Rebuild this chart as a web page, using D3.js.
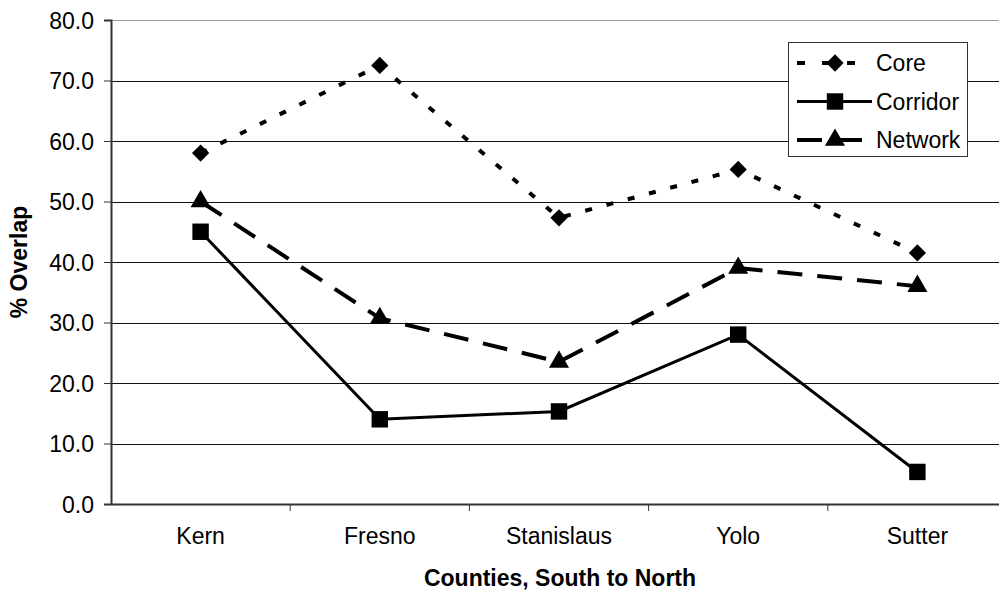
<!DOCTYPE html>
<html lang='en'>
	<head>
		<title>Overlap by County</title>
		<script type='text/javascript' src='https://cdn.jsdelivr.net/npm/d3@7'></script>
		<style>
			body { margin: 0; background: #fff; }
			text { font-family: 'Liberation Sans', Arial, sans-serif; fill: #000; }
		</style>
	</head>
	<body>
		<script type='text/javascript'>
		var counties = ['Kern', 'Fresno', 'Stanislaus', 'Yolo', 'Sutter'];
		var core = [58.0, 72.5, 47.3, 55.3, 41.5];
		var corridor = [45.0, 14.0, 15.3, 28.0, 5.3];
		var network = [50.0, 30.7, 23.5, 39.0, 36.0];
		var y_ticks = [0, 10, 20, 30, 40, 50, 60, 70, 80];

		{
			let width = 999, height = 595;
			let svg = d3.select('body').append('svg').attr('width', width).attr('height', height)

			let plot_l = 111, plot_r = 1007, plot_t = 20, plot_b = 504;
			let x = d3.scaleBand().domain(counties).range([plot_l, plot_r])
			let y = d3.scaleLinear().domain([0, 80]).range([plot_b, plot_t])

			// gridlines
			svg.append('g').selectAll('line').data(y_ticks.slice(1)).enter().append('line')
				.attr('x1', plot_l).attr('x2', plot_r)
				.attr('y1', d => Math.round(y(d)) + 0.5).attr('y2', d => Math.round(y(d)) + 0.5)
				.attr('stroke', d => d == 80 ? '#999' : '#111').attr('stroke-width', 1)

			// y axis
			let yAxis = d3.axisLeft(y).tickValues(y_ticks).tickFormat(d3.format('.1f')).tickSize(7).tickPadding(10)
			let gy = svg.append('g').attr('transform', 'translate(' + plot_l + ',0)').call(yAxis)
			gy.select('.domain').attr('stroke', '#333').attr('stroke-width', 2)
			gy.selectAll('.tick line').attr('stroke', '#333')
			gy.selectAll('text').style('font-size', '23px').attr('dy', '0.36em')

			// x axis
			let xAxis = d3.axisBottom(x).tickSize(0).tickPadding(24)
			let gx = svg.append('g').attr('transform', 'translate(0,' + plot_b + ')').call(xAxis)
			gx.select('.domain').attr('stroke', '#333').attr('stroke-width', 2)
			gx.selectAll('text').style('font-size', '23px')
			gx.selectAll('.sep').data(counties.slice(1)).enter().append('line').attr('class', 'sep')
				.attr('x1', d => x(d)).attr('x2', d => x(d)).attr('y1', 0).attr('y2', 7)
				.attr('stroke', '#333')

			// axis titles
			svg.append('text').attr('x', 560).attr('y', 586).attr('text-anchor', 'middle')
				.style('font-size', '23px').style('font-weight', 'bold').text('Counties, South to North')
			svg.append('text').attr('transform', 'translate(27,262) rotate(-90)').attr('text-anchor', 'middle')
				.style('font-size', '23px').style('font-weight', 'bold').text('% Overlap')

			let series = [
				{name: 'Core', values: core, dash: '7,15', width: 4, sym: d3.symbolDiamond2, size: 190},
				{name: 'Corridor', values: corridor, dash: null, width: 3, sym: d3.symbolSquare, size: 270},
				{name: 'Network', values: network, dash: '25,15', width: 4, sym: d3.symbolTriangle, size: 175}
			]
			let cx = d => x(d) + x.bandwidth() / 2
			let line = d3.line().x(d => cx(d[0])).y(d => y(d[1]))

			series.forEach(function(s) {
				let pts = counties.map((c, i) => [c, s.values[i]])
				svg.append('path').datum(pts).attr('d', line).attr('fill', 'none')
					.attr('stroke', '#000').attr('stroke-width', s.width).attr('stroke-dasharray', s.dash)
				svg.append('g').selectAll('path').data(pts).enter().append('path')
					.attr('d', d3.symbol().type(s.sym).size(s.size))
					.attr('transform', d => 'translate(' + cx(d[0]) + ',' + y(d[1]) + ')')
					.attr('fill', '#000')
			})

			// legend
			let lg = svg.append('g')
			lg.append('rect').attr('x', 788.5).attr('y', 42.5).attr('width', 179).attr('height', 114)
				.attr('fill', '#fff').attr('stroke', '#333').attr('stroke-width', 1)
			series.forEach(function(s, i) {
				let ly = 63 + i * 38.5
				lg.append('line').attr('x1', 797).attr('x2', 872).attr('y1', ly).attr('y2', ly)
					.attr('stroke', '#000').attr('stroke-width', s.width).attr('stroke-dasharray', s.dash == '7,15' ? '8,17' : s.dash)
				lg.append('path').attr('d', d3.symbol().type(s.sym).size(s.size))
					.attr('transform', 'translate(835,' + ly + ')').attr('fill', '#000')
				lg.append('text').attr('x', 876).attr('y', ly).attr('dy', '0.36em')
					.style('font-size', '23px').text(s.name)
			})
		}
		</script>
	</body>
</html>
